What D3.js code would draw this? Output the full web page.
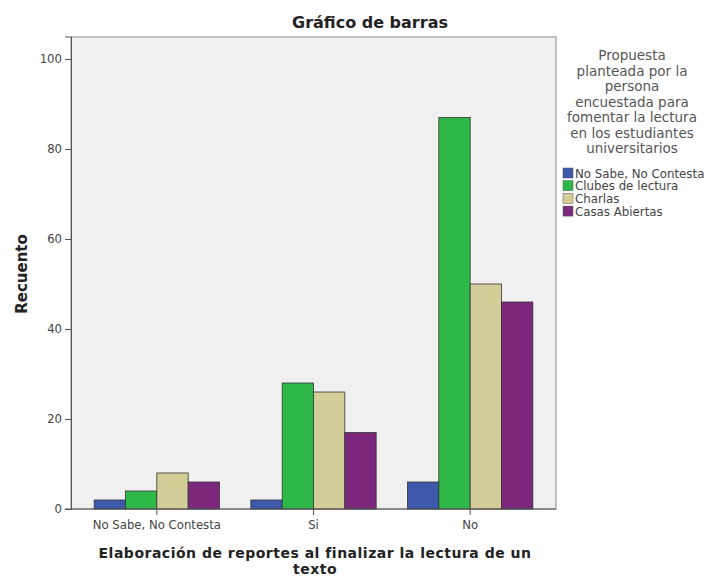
<!DOCTYPE html>
<html>
<head>
<meta charset="utf-8">
<script src="https://cdn.jsdelivr.net/npm/d3@7"></script>
<style>
  body { margin: 0; background: #fff; }
  text { font-family: "DejaVu Sans", sans-serif; }
</style>
</head>
<body>
<div class="chart"></div>
<script>
// Data
const categories = ["No Sabe, No Contesta", "Si", "No"];
const series = ["No Sabe, No Contesta", "Clubes de lectura", "Charlas", "Casas Abiertas"];
const colors = ["#3e58ac", "#2eb848", "#d3ce97", "#7c287d"];
const noSabe = [2, 2, 6];
const clubes = [4, 28, 87];
const charlas = [8, 26, 50];
const casas = [6, 17, 46];
const yTicks = [0, 20, 40, 60, 80, 100];
const legendTitle = ["Propuesta", "planteada por la", "persona", "encuestada para",
  "fomentar la lectura", "en los estudiantes", "universitarios"];

const values = [noSabe, clubes, charlas, casas];
const data = [];
categories.forEach((c, i) => series.forEach((s, j) => data.push({cat: c, series: s, value: values[j][i]})));

// Dimensions
const W = 706, H = 579;
const frame = {left: 71, right: 556, top: 37, bottom: 509};

// Scales
const xScale = d3.scaleBand()
    .domain(categories)
    .range([frame.left + 7.5, frame.right - 7.5]);
const xFacet = d3.scaleBand()
    .domain(series)
    .range([0, xScale.bandwidth()])
    .paddingOuter(0.5);
const yScale = d3.scaleLinear()
    .domain([0, 105])
    .range([frame.bottom, frame.bottom - 105 * 4.5]);
const color = d3.scaleOrdinal().domain(series).range(colors);

const svg = d3.select(".chart").append("svg")
    .attr("width", W)
    .attr("height", H);

svg.append("rect")
    .attr("x", frame.left).attr("y", frame.top)
    .attr("width", frame.right - frame.left)
    .attr("height", frame.bottom - frame.top)
    .attr("fill", "#f0f0f0")
    .attr("stroke", "#8c8c8c");

// Bars
svg.selectAll(".bar")
    .data(data)
  .enter().append("rect")
    .attr("class", "bar")
    .attr("x", d => xScale(d.cat) + xFacet(d.series))
    .attr("y", d => yScale(d.value))
    .attr("width", xFacet.bandwidth())
    .attr("height", d => yScale(0) - yScale(d.value))
    .attr("fill", d => color(d.series))
    .attr("stroke", "#333")
    .attr("stroke-width", 0.8);

// Axes
const yAxis = svg.append("g")
    .attr("transform", "translate(" + frame.left + ",0)")
    .call(d3.axisLeft(yScale).tickValues(yTicks).tickSize(6).tickPadding(3));
const xAxis = svg.append("g")
    .attr("transform", "translate(0," + frame.bottom + ")")
    .call(d3.axisBottom(xScale).tickSize(6).tickPadding(6));
[xAxis, yAxis].forEach(a => {
  a.select(".domain").attr("stroke", "#555");
  a.selectAll(".tick line").attr("stroke", "#555");
  a.selectAll(".tick text").attr("fill", "#444").style("font-size", "11.7px")
      .style("font-family", "'DejaVu Sans', sans-serif");
});
xAxis.select(".domain").attr("d", "M" + (frame.left - 6) + ",0H" + frame.right);

// Titles
svg.append("text")
    .attr("x", 370).attr("y", 28)
    .attr("text-anchor", "middle")
    .style("font-size", "16px").style("font-weight", "bold").attr("fill", "#222")
    .text("Gráfico de barras");

svg.append("text")
    .attr("transform", "translate(27,274) rotate(-90)")
    .attr("text-anchor", "middle")
    .style("font-size", "15px").style("font-weight", "bold").attr("fill", "#222")
    .text("Recuento");

const xt = svg.append("text")
    .attr("text-anchor", "middle")
    .style("font-size", "14px").style("font-weight", "bold")
    .style("letter-spacing", "0.5px").attr("fill", "#222");
xt.append("tspan").attr("x", 315).attr("y", 558).text("Elaboración de reportes al finalizar la lectura de un");
xt.append("tspan").attr("x", 315).attr("y", 574).text("texto");

// Legend
const lt = svg.append("text")
    .attr("text-anchor", "middle")
    .style("font-size", "13.5px").attr("fill", "#555");
legendTitle.forEach((t, i) => {
  lt.append("tspan").attr("x", 632).attr("y", 60 + i * 15.5).text(t);
});

const legend = svg.selectAll(".legend-item")
    .data(series)
  .enter().append("g")
    .attr("class", "legend-item")
    .attr("transform", (d, i) => "translate(563," + (168 + i * 12.7) + ")");
legend.append("rect")
    .attr("width", 10).attr("height", 10)
    .attr("fill", d => color(d))
    .attr("stroke", "#555").attr("stroke-width", 0.5);
legend.append("text")
    .attr("x", 12).attr("y", 9.5)
    .style("font-size", "11.8px").attr("fill", "#444")
    .text(d => d);
</script>
</body>
</html>
